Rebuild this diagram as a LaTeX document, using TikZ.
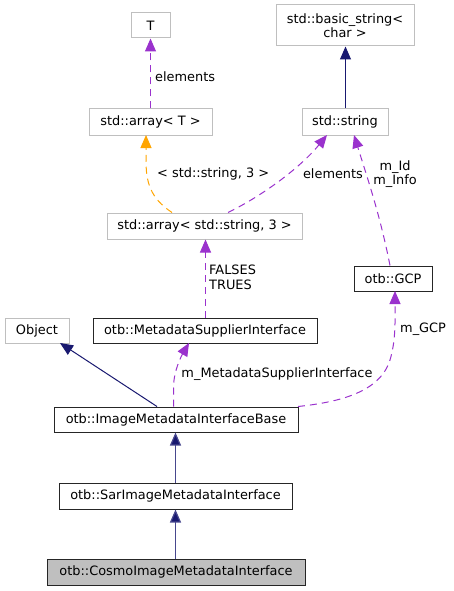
\documentclass[tikz,border=0pt]{standalone}
\usepackage{fontspec}
\setmainfont{DejaVu Sans}
\usetikzlibrary{arrows.meta}
\definecolor{navy}{HTML}{191970}
\definecolor{purp}{HTML}{9A32CD}
\definecolor{orng}{HTML}{FFA500}
\definecolor{gborder}{HTML}{BFBFBF}
\definecolor{cur}{HTML}{BFBFBF}
\tikzset{
  box/.style={draw=gborder, line width=1pt, fill=white, inner sep=0pt, minimum height=25pt, align=center,
    font=\fontsize{12.9}{14.5}\selectfont},
  docbox/.style={box, draw=black!85},
  curbox/.style={box, draw=black!85, fill=cur},
  navyedge/.style={draw=navy, line width=1pt, -{Triangle[length=13pt,width=11pt,fill=navy]}},
  navythick/.style={navyedge, line width=1.2pt, draw=navy!80},
  purpedge/.style={draw=purp, line width=1pt, dash pattern=on 7pt off 5pt, -{Triangle[length=13pt,width=11pt,fill=purp]}},
  orngedge/.style={draw=orng, line width=1pt, dash pattern=on 7pt off 5pt, -{Triangle[length=13pt,width=11pt,fill=orng]}},
  lbl/.style={inner sep=0pt, font=\fontsize{12.9}{14.5}\selectfont, align=left}
}
\begin{document}
\begin{tikzpicture}[x=1pt,y=-1pt]
\useasboundingbox (0,0) rectangle (453,591);
\node[box, minimum width=39pt] (T) at (150.5,25.5) {T};
\node[box, minimum width=138pt, minimum height=41pt] (bs) at (345,25.5) {std::basic\_string<\\char >};
\node[box, minimum width=123pt, minimum height=26pt] (arrT) at (150.5,122) {std::array< T >};
\node[box, minimum width=86pt, minimum height=26pt] (str) at (345,122) {std::string};
\node[box, minimum width=195pt, minimum height=26pt] (arrS) at (204.5,226) {std::array< std::string, 3 >};
\node[docbox, minimum width=78pt] (gcp) at (393,278.5) {otb::GCP};
\node[box, minimum width=64pt] (obj) at (37,330.5) {Object};
\node[docbox, minimum width=224pt] (msi) at (205,330.5) {otb::MetadataSupplierInterface};
\node[docbox, minimum width=244pt] (base) at (176,419.5) {otb::ImageMetadataInterfaceBase};
\node[docbox, minimum width=233pt, minimum height=26pt] (sar) at (175.5,496) {otb::SarImageMetadataInterface};
\node[curbox, minimum width=258pt, minimum height=26pt] (cosmo) at (176,572) {otb::CosmoImageMetadataInterface};

\coordinate (arrTtip) at (146,135);
\coordinate (strtipA) at (327,135);
\coordinate (strtipB) at (354,135);
\coordinate (objtip) at (60,343);
\coordinate (msitip) at (189,343);
\coordinate (gcptip) at (395,291);

\draw[navyedge] (str.north -| 345.5,0) -- (bs.south -| 345.5,0);
\draw[purpedge] (arrT.north -| 150.5,0) -- (T.south -| 150.5,0);
\node[lbl, anchor=west] (l1) at (155,77) {elements};

\draw[orngedge] (arrS.north -| 172,0) .. controls (150,198) and (146,182) .. (146,160) -- (arrTtip);
\node[lbl, anchor=west] (l2) at (157,174) {< std::string, 3 >};

\draw[purpedge] (arrS.north -| 228,0) .. controls (262,196) and (300,168) .. (strtipA);
\node[lbl] (l3) at (333,174) {elements};

\draw[purpedge] (gcp.north -| 390,0) .. controls (380,215) and (368,180) .. (strtipB);
\node[lbl, align=center] (l4) at (395,174) {m\_Id\\m\_Info};

\draw[purpedge] (msi.north -| 205.5,0) -- (arrS.south -| 205.5,0);
\node[lbl, anchor=west] (l5) at (209,277.5) {FALSES\\TRUES};

\draw[navyedge] (base.north -| 157,0) -- (objtip);

\draw[purpedge] (base.north -| 173.5,0) -- (173.5,388) .. controls (173.5,370) and (182,355) .. (msitip);
\node[lbl] (l6) at (277,374) {m\_MetadataSupplierInterface};

\draw[purpedge] (base.north -| 298,0) .. controls (340,402) and (380,392) .. (390,360) .. controls (396,340) and (395,320) .. (gcptip);
\node[lbl, anchor=west] (l7) at (400,329) {m\_GCP};

\draw[navythick] (sar.north -| 175.5,0) -- (base.south -| 175.5,0);
\draw[navythick] (cosmo.north -| 175.5,0) -- (sar.south -| 175.5,0);
\end{tikzpicture}
\end{document}
